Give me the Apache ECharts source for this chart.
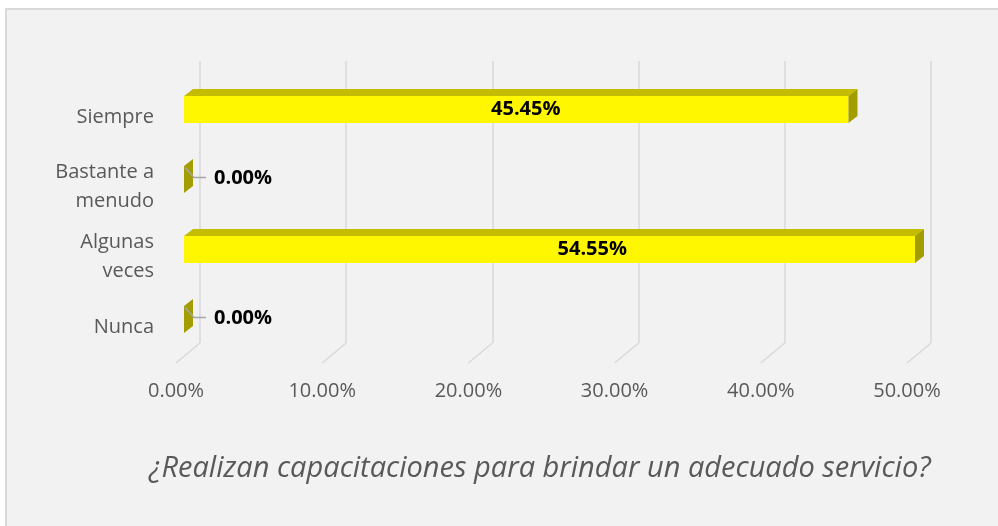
<!DOCTYPE html>
<html>
<head>
<meta charset="utf-8">
<script src="https://cdn.jsdelivr.net/npm/echarts@6/dist/echarts.min.js"></script>
<style>
  html, body { margin: 0; padding: 0; background: #fff; }
  #frame { position: absolute; left: 5px; top: 8px; width: 1000px; height: 530px;
           background: #F2F2F2; border-left: 2px solid #D9D9D9; border-top: 2px solid #D9D9D9; }
  #chart { position: absolute; left: 0; top: 0; width: 998px; height: 526px; }
</style>
</head>
<body>
<div id="frame"></div>
<div id="chart"></div>
<script>
const categories = ['Siempre', 'Bastante a\nmenudo', 'Algunas\nveces', 'Nunca'];
const values = [45.45, 0, 54.55, 0];
const tickValues = [0, 10, 20, 30, 40, 50];
const titleText = '¿Realizan capacitaciones para brindar un adecuado servicio?';

const X_MAX = 50;
const FONT = '"Open Sans", "Noto Sans", sans-serif';
const GREY = '#595959';
// 3d look: how far the back faces are shifted
const DX = 9, DY = 7, BAR_H = 27, LIFT = 7.5;

const chart = echarts.init(document.getElementById('chart'), null, { renderer: 'canvas' });

function renderBar(params, api) {
  const idx = api.value(0);
  const v = api.value(1);
  const p0 = api.coord([0, idx]);
  const p1 = api.coord([Math.min(v, X_MAX), idx]);
  const pFull = api.coord([v, idx]);
  const x0 = p0[0], x1 = p1[0];
  const yc = p0[1] - LIFT;
  const yt = yc - BAR_H / 2, yb = yc + BAR_H / 2;
  const label = v.toFixed(2) + '%';
  const children = [
    { type: 'rect', shape: { x: x0, y: yt, width: x1 - x0, height: BAR_H }, style: { fill: '#FFF700' } },
    { type: 'polygon', shape: { points: [[x0, yt], [x1, yt], [x1 + DX, yt - DY], [x0 + DX, yt - DY]] }, style: { fill: '#C4BC00' } },
    { type: 'polygon', shape: { points: [[x1, yt], [x1 + DX, yt - DY], [x1 + DX, yb - DY], [x1, yb]] }, style: { fill: '#A39D00' } }
  ];
  if (x1 - x0 > 40) {
    children.push({ type: 'text', x: (x0 + pFull[0] + DX) / 2 + 5, y: yc,
      style: { text: label, font: 'bold 20px ' + FONT, fill: '#000', align: 'center', verticalAlign: 'middle' } });
  } else {
    children.push({ type: 'polyline', shape: { points: [[x1 + 1, yc - 12], [x1 + 10, yc - 2], [x1 + 22, yc - 2]] },
      style: { stroke: '#A6A6A6', lineWidth: 1.5, fill: null } });
    children.push({ type: 'text', x: x1 + 30, y: yc - 1,
      style: { text: label, font: 'bold 20px ' + FONT, fill: '#000', align: 'left', verticalAlign: 'middle' } });
  }
  return { type: 'group', children };
}

function renderFloor(params, api) {
  const v = api.value(0);
  const b = api.coord([v, 0]);
  return { type: 'line', shape: { x1: b[0], y1: b[1], x2: b[0] - 24, y2: b[1] + 20 },
           style: { stroke: '#D9D9D9', lineWidth: 1.5 } };
}

chart.setOption({
  animation: false,
  textStyle: { fontFamily: FONT },
  title: {
    text: titleText, left: 144, top: 449,
    textStyle: { fontFamily: FONT, fontStyle: 'italic', fontWeight: 'normal', fontSize: 29, color: GREY }
  },
  grid: [
    { left: 200, width: 731, top: 61, height: 282 },
    { left: 176, width: 731, top: 362, height: 1 },
    { left: 184, width: 731, top: 82, height: 280 }
  ],
  xAxis: [
    { gridIndex: 0, type: 'value', min: 0, max: X_MAX, interval: 10,
      axisLine: { show: false }, axisTick: { show: false }, axisLabel: { show: false },
      splitLine: { lineStyle: { color: '#D9D9D9', width: 1.5 } } },
    { gridIndex: 1, type: 'value', min: 0, max: X_MAX, interval: 10,
      axisLine: { show: false }, axisTick: { show: false }, splitLine: { show: false },
      axisLabel: { margin: 18, fontSize: 20, color: GREY, fontFamily: FONT,
                   formatter: v => v.toFixed(2) + '%' } },
    { gridIndex: 2, type: 'value', min: 0, max: X_MAX, show: false }
  ],
  yAxis: [
    { gridIndex: 0, type: 'value', min: 0, max: 1, show: false },
    { gridIndex: 1, type: 'value', min: 0, max: 1, show: false },
    { gridIndex: 2, type: 'category', data: categories, inverse: true,
      axisLine: { show: false }, axisTick: { show: false }, splitLine: { show: false },
      axisLabel: { margin: 30, fontSize: 20, lineHeight: 29, color: GREY, fontFamily: FONT, align: 'right' } }
  ],
  series: [
    { type: 'custom', xAxisIndex: 0, yAxisIndex: 0, renderItem: renderFloor,
      data: tickValues.map(t => [t]), silent: true },
    { type: 'custom', xAxisIndex: 2, yAxisIndex: 2, renderItem: renderBar,
      data: values.map((v, i) => [i, v]), encode: { x: 1, y: 0 }, z: 3 }
  ]
});
</script>
</body>
</html>
